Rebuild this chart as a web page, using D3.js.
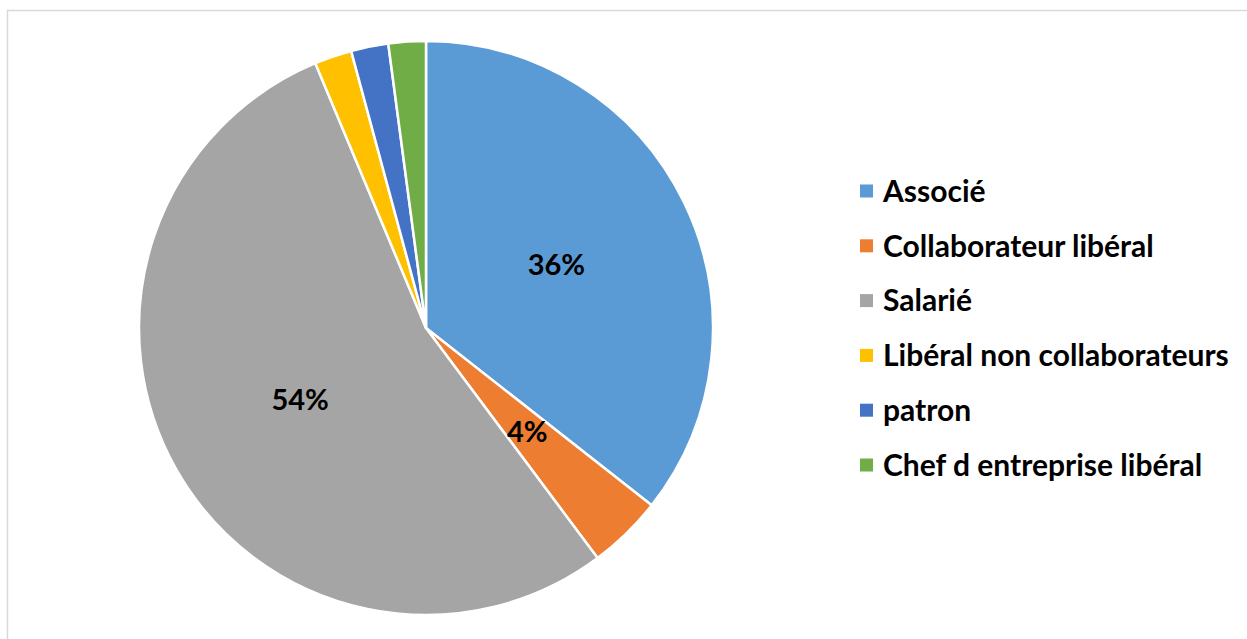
<!DOCTYPE html>
<html>
<head>
<meta charset="utf-8">
<script src="https://cdn.jsdelivr.net/npm/d3@7"></script>
<style>
  body { margin: 0; background: #fff; }
  svg { display: block; }
  text { font-family: Lato, "Open Sans", sans-serif; font-weight: bold; fill: #000; }
</style>
</head>
<body>
<div id="chart"></div>
<script>
const categories = ['Associé', 'Collaborateur libéral', 'Salarié', 'Libéral non collaborateurs', 'patron', 'Chef d entreprise libéral'];
const values = [35.6, 4.2, 53.9, 2.1, 2.1, 2.1];
const colors = ['#5B9BD5', '#ED7D31', '#A5A5A5', '#FFC000', '#4472C4', '#70AD47'];
const shownLabels = [true, true, true, false, false, false];

const width = 1247, height = 639;
const cx = 426, cy = 328, radius = 287;

const svg = d3.select('#chart')
  .append('svg')
  .attr('width', width)
  .attr('height', height);

// chart area frame (only top/left visible)
svg.append('rect')
  .attr('x', 7.5).attr('y', 10.5)
  .attr('width', 1270).attr('height', 660)
  .attr('fill', 'none')
  .attr('stroke', '#d9d9d9')
  .attr('stroke-width', 1.5);

const total = d3.sum(values);
const pie = d3.pie().sort(null).value(d => d.value);
const data = pie(categories.map((c, i) => ({ name: c, value: values[i], i })));

const arc = d3.arc().innerRadius(0).outerRadius(radius);
const labelArc = d3.arc().innerRadius(radius * 0.505).outerRadius(radius * 0.505);

const g = svg.append('g').attr('transform', `translate(${cx},${cy})`);

g.selectAll('.slice')
  .data(data)
  .enter()
  .append('path')
  .attr('class', 'slice')
  .attr('d', arc)
  .attr('fill', d => colors[d.data.i])
  .attr('stroke', '#fff')
  .attr('stroke-width', 2.5)
  .attr('stroke-linejoin', 'round');

g.selectAll('.lbl')
  .data(data.filter(d => shownLabels[d.data.i]))
  .enter()
  .append('text')
  .attr('class', 'lbl')
  .attr('transform', d => `translate(${labelArc.centroid(d)})`)
  .attr('text-anchor', 'middle')
  .attr('dy', '0.36em')
  .style('font-size', '29px')
  .text(d => Math.round(d.value / total * 100) + '%');

// legend
const legendY = d3.scalePoint()
  .domain(categories)
  .range([191, 465]);

const legend = svg.selectAll('.legend')
  .data(categories)
  .enter()
  .append('g')
  .attr('class', 'legend')
  .attr('transform', d => `translate(860,${legendY(d)})`);

legend.append('rect')
  .attr('x', 0).attr('y', -6.5)
  .attr('width', 13).attr('height', 13)
  .attr('fill', (d, i) => colors[i]);

legend.append('text')
  .attr('x', 23)
  .attr('dy', '0.36em')
  .style('font-size', '30px')
  .text(d => d);
</script>
</body>
</html>
